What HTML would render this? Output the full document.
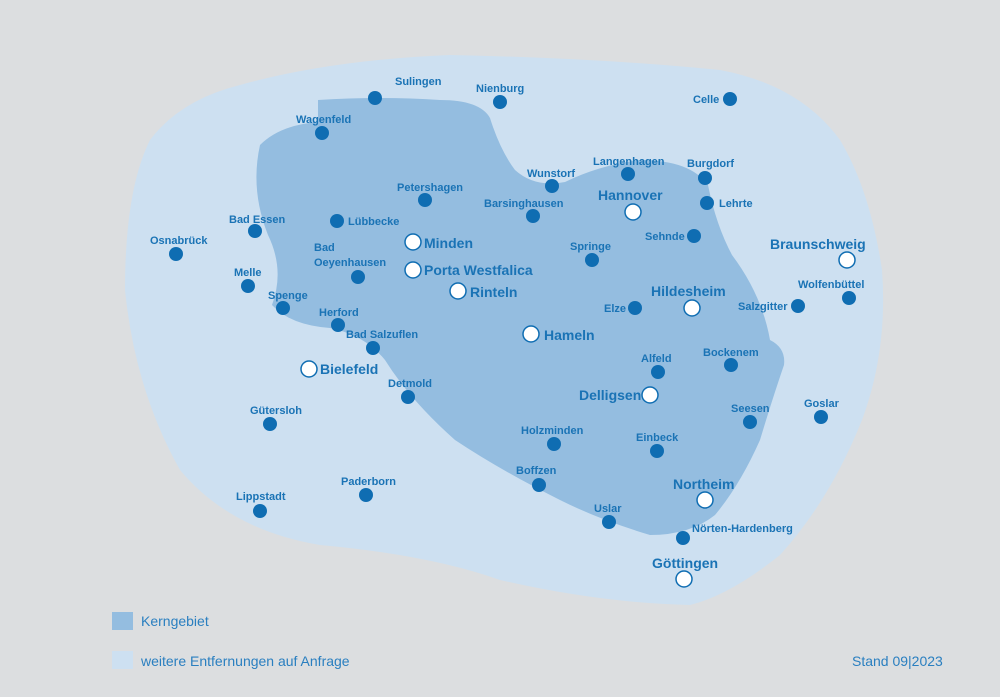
<!DOCTYPE html>
<html><head><meta charset="utf-8"><style>
html,body{margin:0;padding:0;background:#dcdee0;}
svg{display:block;}
text{font-family:"Liberation Sans",sans-serif;font-weight:bold;fill:#1a73b5;}
.s{font-size:11px;}
.b{font-size:14px;}
.l{font-weight:normal;font-size:14px;fill:#2a7fc0;}
</style></head><body>
<svg width="1000" height="697" viewBox="0 0 1000 697">
<rect width="1000" height="697" fill="#dcdee0"/>
<path d="M150,140 Q180,100 240,85 Q330,60 450,55 Q600,58 720,70 Q800,85 840,140 Q870,190 882,270 Q888,350 862,420 Q830,500 780,555 Q730,595 690,605 Q600,603 500,580 Q430,555 320,545 Q230,530 180,470 Q135,390 125,290 Q125,190 150,140Z" fill="#cde0f1"/>
<path d="M318,100 Q380,96 440,100 Q480,100 490,118 Q500,150 515,170 Q535,188 565,182 Q600,165 640,160 Q690,160 708,185 Q716,225 732,255 Q762,295 770,340 Q786,348 784,365 Q772,400 760,440 Q740,485 715,515 Q690,535 650,535 Q600,520 560,500 Q500,470 455,440 Q410,400 385,360 Q365,335 330,328 Q290,325 272,305 Q285,270 268,235 Q250,190 260,145 Q280,125 318,122Z" fill="#94bde0"/>
<g fill="#0f6db2">
<circle cx="375" cy="98" r="7"/><circle cx="500" cy="102" r="7"/><circle cx="730" cy="99" r="7"/>
<circle cx="322" cy="133" r="7"/><circle cx="552" cy="186" r="7"/><circle cx="628" cy="174" r="7"/>
<circle cx="705" cy="178" r="7"/><circle cx="425" cy="200" r="7"/><circle cx="533" cy="216" r="7"/>
<circle cx="707" cy="203" r="7"/><circle cx="255" cy="231" r="7"/><circle cx="337" cy="221" r="7"/>
<circle cx="176" cy="254" r="7"/><circle cx="694" cy="236" r="7"/><circle cx="592" cy="260" r="7"/>
<circle cx="358" cy="277" r="7"/><circle cx="248" cy="286" r="7"/><circle cx="283" cy="308" r="7"/>
<circle cx="849" cy="298" r="7"/><circle cx="798" cy="306" r="7"/><circle cx="635" cy="308" r="7"/>
<circle cx="338" cy="325" r="7"/><circle cx="373" cy="348" r="7"/><circle cx="731" cy="365" r="7"/>
<circle cx="658" cy="372" r="7"/><circle cx="408" cy="397" r="7"/><circle cx="821" cy="417" r="7"/>
<circle cx="750" cy="422" r="7"/><circle cx="270" cy="424" r="7"/><circle cx="554" cy="444" r="7"/>
<circle cx="657" cy="451" r="7"/><circle cx="539" cy="485" r="7"/><circle cx="366" cy="495" r="7"/>
<circle cx="260" cy="511" r="7"/><circle cx="609" cy="522" r="7"/><circle cx="683" cy="538" r="7"/>
</g>
<g fill="#fff" stroke="#0f6db2" stroke-width="1.5">
<circle cx="633" cy="212" r="8"/><circle cx="413" cy="242" r="8"/><circle cx="413" cy="270" r="8"/>
<circle cx="458" cy="291" r="8"/><circle cx="847" cy="260" r="8"/><circle cx="692" cy="308" r="8"/>
<circle cx="531" cy="334" r="8"/><circle cx="309" cy="369" r="8"/><circle cx="650" cy="395" r="8"/>
<circle cx="705" cy="500" r="8"/><circle cx="684" cy="579" r="8"/>
</g>
<g class="s">
<text x="395" y="85">Sulingen</text><text x="476" y="92">Nienburg</text><text x="693" y="103">Celle</text>
<text x="296" y="123">Wagenfeld</text><text x="527" y="177">Wunstorf</text><text x="593" y="165">Langenhagen</text>
<text x="687" y="167">Burgdorf</text><text x="397" y="191">Petershagen</text><text x="484" y="207">Barsinghausen</text>
<text x="719" y="207">Lehrte</text><text x="229" y="223">Bad Essen</text><text x="348" y="225">Lübbecke</text>
<text x="150" y="244">Osnabrück</text><text x="645" y="240">Sehnde</text><text x="570" y="250">Springe</text>
<text x="314" y="251">Bad</text><text x="314" y="266">Oeyenhausen</text>
<text x="234" y="276">Melle</text><text x="268" y="299">Spenge</text><text x="798" y="288">Wolfenbüttel</text>
<text x="738" y="310">Salzgitter</text><text x="604" y="312">Elze</text><text x="319" y="316">Herford</text>
<text x="346" y="338">Bad Salzuflen</text><text x="703" y="356">Bockenem</text><text x="641" y="362">Alfeld</text>
<text x="388" y="387">Detmold</text><text x="804" y="407">Goslar</text><text x="731" y="412">Seesen</text>
<text x="250" y="414">Gütersloh</text><text x="521" y="434">Holzminden</text><text x="636" y="441">Einbeck</text>
<text x="516" y="474">Boffzen</text><text x="341" y="485">Paderborn</text><text x="236" y="500">Lippstadt</text>
<text x="594" y="512">Uslar</text><text x="692" y="532">Nörten-Hardenberg</text>
</g>
<g class="b">
<text x="598" y="200">Hannover</text><text x="424" y="248">Minden</text><text x="424" y="275">Porta Westfalica</text>
<text x="470" y="297">Rinteln</text><text x="770" y="249">Braunschweig</text><text x="651" y="296">Hildesheim</text>
<text x="544" y="340">Hameln</text><text x="320" y="374">Bielefeld</text><text x="579" y="400">Delligsen</text>
<text x="673" y="489">Northeim</text><text x="652" y="568">Göttingen</text>
</g>
<rect x="112" y="612" width="21" height="18" fill="#94bde0"/>
<rect x="112" y="651" width="21" height="18" fill="#cde0f1"/>
<text class="l" x="141" y="626">Kerngebiet</text>
<text class="l" x="141" y="666">weitere Entfernungen auf Anfrage</text>
<text class="l" x="852" y="666">Stand 09|2023</text>
</svg>
</body></html>
